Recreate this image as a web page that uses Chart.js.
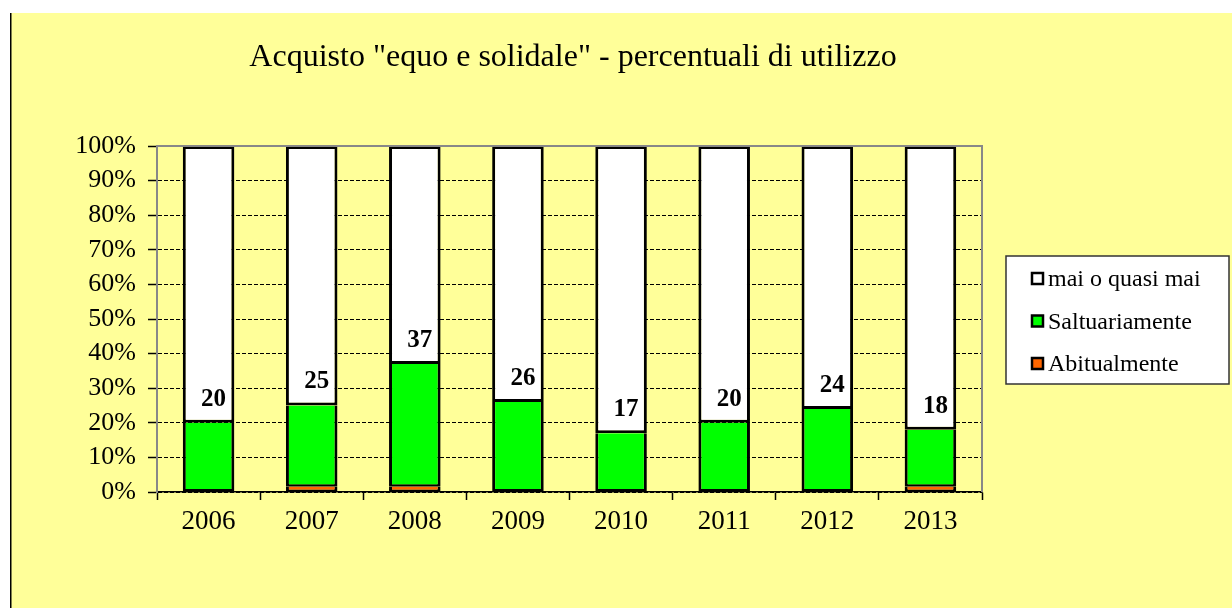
<!DOCTYPE html>
<html>
<head>
<meta charset="utf-8">
<script src="https://cdn.jsdelivr.net/npm/chart.js@4/dist/chart.umd.min.js"></script>
<style>
  html, body { margin: 0; padding: 0; background: #fff; }
  #wrap { width: 1232px; height: 608px; position: relative; }
</style>
</head>
<body>
<div id="wrap"><canvas id="c" width="1232" height="608"></canvas></div>
<script>
// Acquisto equo e solidale — barre impilate al 100%
const YEARS = ['2006', '2007', '2008', '2009', '2010', '2011', '2012', '2013'];
const ABITUALMENTE = [0, 1.5, 1.5, 0, 0, 0, 0, 1.5];
const SALTUARIAMENTE = [20, 23.5, 35.5, 26, 17, 20, 24, 16.5];
const MAI = [80, 75, 63, 74, 83, 80, 76, 82];
const TOTALI = [20, 25, 37, 26, 17, 20, 24, 18];

const BG = '#FFFF99', SERIF = "'Liberation Serif', 'Times New Roman', serif";
const LEGEND = [['mai o quasi mai', '#ffffff'], ['Saltuariamente', '#00ff00'], ['Abitualmente', '#ff6600']];

const decor = {
  id: 'decor',
  beforeDraw(chart) {
    const { ctx, width, height } = chart;
    ctx.save();
    ctx.fillStyle = '#fff';
    ctx.fillRect(0, 0, width, height);
    ctx.fillStyle = BG;
    ctx.fillRect(10, 13, width - 10, height - 13);
    ctx.fillStyle = '#000';
    ctx.fillRect(10, 13, 1.5, height - 13);
    ctx.restore();
  },
  afterDatasetsDraw(chart) {
    const { ctx, chartArea: a } = chart;
    ctx.save();
    // bordo area grafico
    ctx.strokeStyle = '#888';
    ctx.lineWidth = 2;
    ctx.beginPath();
    ctx.moveTo(a.left, a.top); ctx.lineTo(a.right, a.top); ctx.lineTo(a.right, a.bottom);
    ctx.stroke();
    // etichette totali sopra il verde
    const meta = chart.getDatasetMeta(1);
    const y = chart.scales.y;
    ctx.fillStyle = '#000';
    ctx.font = 'bold 25px ' + SERIF;
    ctx.textAlign = 'center';
    ctx.textBaseline = 'bottom';
    meta.data.forEach((bar, i) => {
      ctx.fillText(TOTALI[i], bar.x + 5, y.getPixelForValue(TOTALI[i]) - 11);
    });
    // titolo
    ctx.font = '32px ' + SERIF;
    ctx.textBaseline = 'middle';
    ctx.fillText('Acquisto "equo e solidale" - percentuali di utilizzo', 573, 58);
    // legenda
    ctx.fillStyle = '#fff';
    ctx.fillRect(1006, 256, 223, 128);
    ctx.strokeStyle = '#333';
    ctx.lineWidth = 1.5;
    ctx.strokeRect(1006, 256, 223, 128);
    ctx.font = '24px ' + SERIF;
    ctx.textAlign = 'left';
    LEGEND.forEach(([label, col], i) => {
      const cy = 279 + i * 42.5;
      ctx.fillStyle = col;
      ctx.fillRect(1032, cy - 6, 11, 11);
      ctx.strokeStyle = '#000';
      ctx.lineWidth = 2.5;
      ctx.strokeRect(1032, cy - 6, 11, 11);
      ctx.fillStyle = '#000';
      ctx.fillText(label, 1048, cy + 1);
    });
    ctx.restore();
  }
};

const barStyle = (bw) => ({ borderColor: '#000', borderWidth: bw, borderSkipped: false, categoryPercentage: 1, barPercentage: 0.5 });

new Chart(document.getElementById('c'), {
  type: 'bar',
  data: {
    labels: YEARS,
    datasets: [
      { label: 'Abitualmente', data: ABITUALMENTE, backgroundColor: '#ff6600', ...barStyle({ top: 0, bottom: 2, left: 3, right: 3 }) },
      { label: 'Saltuariamente', data: SALTUARIAMENTE, backgroundColor: '#00ff00', ...barStyle({ top: 0, bottom: 2.5, left: 3, right: 3 }) },
      { label: 'mai o quasi mai', data: MAI, backgroundColor: '#ffffff', ...barStyle(3) },
    ],
  },
  options: {
    responsive: false,
    animation: false,
    layout: { padding: { left: 0, top: 146, right: 250, bottom: 0 } },
    plugins: { legend: { display: false }, title: { display: false }, tooltip: { enabled: false } },
    scales: {
      x: {
        stacked: true,
        grid: { offset: true, drawOnChartArea: false, drawTicks: true, tickLength: 8, tickColor: '#000', tickWidth: 1.5 },
        border: { color: '#000', width: 1.5 },
        ticks: { color: '#000', font: { family: SERIF, size: 27 }, padding: 6 },
        afterFit: (s) => { s.height = 116; },
      },
      y: {
        stacked: true,
        min: 0, max: 100,
        grid: { color: '#000', lineWidth: 1, tickLength: 9, tickColor: '#000', tickWidth: 1.5, tickBorderDash: [] },
        border: { color: '#888', width: 2, dash: [4, 2] },
        ticks: { stepSize: 10, color: '#000', font: { family: SERIF, size: 26 }, padding: 12, callback: (v) => v + '%' },
        afterFit: (s) => { s.width = 157; },
      },
    },
  },
  plugins: [decor],
});
</script>
</body>
</html>
